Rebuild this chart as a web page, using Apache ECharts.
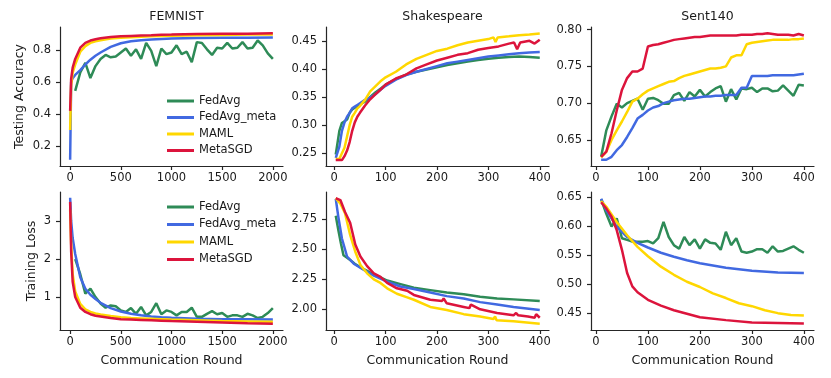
<!DOCTYPE html>
<html>
<head>
<meta charset="utf-8">
<script src="https://cdn.jsdelivr.net/npm/echarts@6/dist/echarts.min.js"></script>
<style>
html, body { margin: 0; padding: 0; background: #fff; }
#chart { width: 831px; height: 378px; }
</style>
</head>
<body>
<div id="chart"></div>
<script>
// ---- FEMNIST ----
const femSparseX = [50, 100, 150, 200, 250, 300, 350, 400, 450, 500, 550, 600, 650, 700, 750, 800, 850, 900, 950, 1000,
  1050, 1100, 1150, 1200, 1250, 1300, 1350, 1400, 1450, 1500, 1550, 1600, 1650, 1700, 1750, 1800, 1850, 1900, 1950, 2000];
const femDenseX = [0, 10, 25, 50, 100, 150, 200, 250, 300, 400, 500, 600, 700, 800, 900, 1000, 1250, 1500, 1750, 2000];

const femAccFedAvg = [0.545, 0.66, 0.72, 0.625, 0.70, 0.745, 0.77, 0.755, 0.76, 0.785, 0.81, 0.765, 0.805, 0.745, 0.845, 0.795, 0.70, 0.81, 0.775, 0.785,
  0.83, 0.775, 0.79, 0.725, 0.85, 0.845, 0.805, 0.77, 0.815, 0.81, 0.845, 0.81, 0.815, 0.85, 0.81, 0.815, 0.86, 0.83, 0.78, 0.745];
const femAccMeta = [0.115, 0.60, 0.625, 0.645, 0.675, 0.71, 0.74, 0.765, 0.785, 0.82, 0.843, 0.855, 0.862, 0.866, 0.869, 0.872, 0.875, 0.877, 0.878, 0.879];
const femAccMaml = [0.30, 0.58, 0.66, 0.71, 0.79, 0.825, 0.845, 0.855, 0.862, 0.872, 0.877, 0.88, 0.883, 0.886, 0.888, 0.89, 0.893, 0.895, 0.897, 0.898];
const femAccMetaSGD = [0.42, 0.62, 0.69, 0.745, 0.815, 0.845, 0.86, 0.868, 0.874, 0.882, 0.886, 0.889, 0.891, 0.893, 0.896, 0.897, 0.90, 0.902, 0.903, 0.905];

const femLossFedAvg = [2.0, 1.6, 1.09, 1.22, 1.0, 0.83, 0.72, 0.78, 0.76, 0.65, 0.61, 0.71, 0.56, 0.74, 0.52, 0.61, 0.84, 0.55, 0.65, 0.61,
  0.52, 0.61, 0.61, 0.72, 0.48, 0.48, 0.56, 0.63, 0.55, 0.58, 0.48, 0.52, 0.52, 0.48, 0.56, 0.52, 0.45, 0.48, 0.58, 0.71];
const femLossMeta = [3.61, 3.0, 2.55, 2.13, 1.52, 1.22, 1.06, 0.95, 0.85, 0.71, 0.62, 0.56, 0.52, 0.49, 0.47, 0.455, 0.43, 0.42, 0.415, 0.41];
const femLossMaml = [3.3, 2.4, 1.6, 1.15, 0.82, 0.68, 0.61, 0.57, 0.54, 0.50, 0.47, 0.45, 0.44, 0.43, 0.42, 0.41, 0.39, 0.37, 0.36, 0.35];
const femLossMetaSGD = [3.5, 2.2, 1.4, 1.0, 0.72, 0.61, 0.55, 0.51, 0.49, 0.45, 0.42, 0.41, 0.40, 0.39, 0.38, 0.37, 0.35, 0.33, 0.31, 0.30];

// ---- Shakespeare ----
const shkAccX = [3, 10, 15, 20, 25, 30, 35, 40, 45, 50, 60, 70, 80, 90, 100, 120, 140, 160, 180, 200, 220, 240, 260, 280, 300, 320, 340, 360, 380, 400];
const shkAccFedAvg = [0.248, 0.29, 0.304, 0.307, 0.31, 0.322, 0.328, 0.331, 0.334, 0.337, 0.342, 0.35, 0.358, 0.365, 0.372, 0.382, 0.39, 0.395, 0.399, 0.403,
  0.407, 0.41, 0.413, 0.416, 0.418, 0.42, 0.421, 0.422, 0.421, 0.42];
const shkAccMeta = [0.242, 0.262, 0.29, 0.305, 0.315, 0.322, 0.33, 0.333, 0.336, 0.339, 0.345, 0.349, 0.355, 0.363, 0.37, 0.381, 0.389, 0.395, 0.40, 0.405,
  0.41, 0.413, 0.416, 0.419, 0.422, 0.424, 0.426, 0.428, 0.429, 0.43];
const shkAccMamlX = [3, 10, 15, 20, 25, 30, 35, 40, 45, 50, 60, 70, 80, 90, 100, 120, 140, 160, 180, 200, 220, 240, 260, 280, 300, 310, 314, 318, 340, 360, 380, 400];
const shkAccMaml = [0.24, 0.24, 0.25, 0.26, 0.28, 0.30, 0.315, 0.322, 0.33, 0.334, 0.345, 0.36, 0.369, 0.378, 0.385, 0.395, 0.408, 0.418, 0.425, 0.432,
  0.436, 0.442, 0.447, 0.45, 0.453, 0.456, 0.448, 0.456, 0.458, 0.46, 0.461, 0.463];
const shkAccMetaSGDX = [3, 10, 15, 20, 25, 30, 35, 40, 45, 50, 60, 70, 80, 90, 100, 120, 140, 160, 180, 200, 220, 240, 260, 280, 300, 320, 340, 350, 356, 362, 380, 390, 400];
const shkAccMetaSGD = [0.238, 0.238, 0.238, 0.245, 0.255, 0.27, 0.29, 0.305, 0.315, 0.322, 0.335, 0.346, 0.355, 0.363, 0.372, 0.383, 0.39, 0.401, 0.408, 0.415,
  0.42, 0.425, 0.428, 0.434, 0.437, 0.44, 0.445, 0.447, 0.435, 0.447, 0.45, 0.445, 0.452];

const shkLossFedAvgX = [3, 8, 13, 18, 25, 31, 40, 51, 64, 77, 90, 103, 129, 155, 187, 219, 252, 284, 317, 349, 400];
const shkLossFedAvg = [2.78, 2.66, 2.55, 2.45, 2.43, 2.41, 2.38, 2.35, 2.32, 2.29, 2.265, 2.24, 2.21, 2.18, 2.16, 2.14, 2.125, 2.105, 2.09, 2.083, 2.07];
const shkLossMetaX = [3, 8, 15, 25, 38, 57, 77, 103, 129, 155, 187, 219, 252, 284, 317, 349, 400];
const shkLossMeta = [2.92, 2.77, 2.59, 2.44, 2.38, 2.33, 2.28, 2.23, 2.19, 2.17, 2.14, 2.11, 2.09, 2.06, 2.04, 2.02, 1.995];
const shkLossMamlX = [3, 12, 21, 31, 41, 51, 64, 77, 90, 103, 122, 142, 155, 187, 219, 252, 284, 310, 313, 316, 349, 400];
const shkLossMaml = [2.925, 2.88, 2.80, 2.62, 2.48, 2.37, 2.30, 2.25, 2.22, 2.175, 2.13, 2.10, 2.08, 2.02, 1.995, 1.96, 1.94, 1.92, 1.94, 1.91, 1.90, 1.88];
const shkLossMetaSGDX = [3, 12, 21, 31, 41, 51, 54, 64, 77, 90, 103, 122, 142, 155, 187, 210, 213, 219, 252, 263, 266, 284, 317, 349, 354, 358, 377, 390, 393, 400];
const shkLossMetaSGD = [2.925, 2.91, 2.81, 2.72, 2.54, 2.44, 2.44, 2.36, 2.30, 2.27, 2.22, 2.175, 2.155, 2.12, 2.08, 2.07, 2.09, 2.05, 2.02, 2.01,
  2.04, 2.00, 1.97, 1.95, 1.97, 1.95, 1.94, 1.93, 1.96, 1.93];

// ---- Sent140 ----
const sentX = [10, 20, 30, 40, 50, 60, 70, 80, 90, 100, 110, 120, 130, 140, 150, 160, 170, 180, 190, 200,
  210, 220, 230, 240, 250, 260, 270, 280, 290, 300, 310, 320, 330, 340, 350, 360, 370, 380, 390, 400];
const sentAccFedAvg = [0.627, 0.663, 0.682, 0.699, 0.694, 0.70, 0.703, 0.706, 0.691, 0.706, 0.707, 0.704, 0.699, 0.699, 0.711, 0.714, 0.703, 0.715, 0.709, 0.718,
  0.709, 0.715, 0.72, 0.723, 0.702, 0.719, 0.705, 0.72, 0.719, 0.721, 0.715, 0.72, 0.72, 0.716, 0.717, 0.724, 0.717, 0.71, 0.725, 0.724];
const sentAccMeta = [0.623, 0.623, 0.627, 0.636, 0.643, 0.654, 0.666, 0.679, 0.684, 0.69, 0.694, 0.696, 0.70, 0.702, 0.704, 0.705, 0.706, 0.706, 0.707, 0.708,
  0.709, 0.709, 0.71, 0.71, 0.711, 0.711, 0.711, 0.721, 0.721, 0.737, 0.737, 0.737, 0.737, 0.738, 0.738, 0.738, 0.738, 0.738, 0.739, 0.74];
const sentAccMaml = [0.626, 0.634, 0.65, 0.663, 0.675, 0.688, 0.702, 0.706, 0.712, 0.717, 0.72, 0.723, 0.726, 0.729, 0.73, 0.734, 0.737, 0.739, 0.741, 0.743,
  0.745, 0.747, 0.747, 0.748, 0.75, 0.762, 0.765, 0.765, 0.78, 0.782, 0.783, 0.784, 0.785, 0.786, 0.786, 0.786, 0.786, 0.787, 0.787, 0.788];
const sentAccMetaSGD = [0.627, 0.634, 0.659, 0.69, 0.718, 0.734, 0.743, 0.743, 0.747, 0.777, 0.779, 0.78, 0.782, 0.784, 0.786, 0.787, 0.788, 0.789, 0.79, 0.79,
  0.791, 0.792, 0.792, 0.792, 0.792, 0.792, 0.792, 0.793, 0.793, 0.793, 0.794, 0.794, 0.795, 0.794, 0.793, 0.793, 0.793, 0.792, 0.794, 0.792];

const sentLossFedAvg = [0.646, 0.621, 0.599, 0.613, 0.579, 0.576, 0.573, 0.573, 0.573, 0.574, 0.57, 0.579, 0.607, 0.581, 0.567, 0.561, 0.581, 0.567, 0.577, 0.561,
  0.577, 0.571, 0.57, 0.559, 0.59, 0.567, 0.579, 0.556, 0.554, 0.556, 0.56, 0.56, 0.554, 0.565, 0.556, 0.557, 0.561, 0.565, 0.559, 0.554];
const sentLossMetaX = [10, 20, 40, 60, 80, 100, 125, 150, 175, 200, 250, 300, 350, 400];
const sentLossMeta = [0.647, 0.627, 0.599, 0.581, 0.571, 0.563, 0.554, 0.547, 0.541, 0.536, 0.528, 0.523, 0.520, 0.519];
const sentLossMamlX = [10, 20, 40, 60, 80, 100, 125, 150, 175, 200, 225, 250, 275, 300, 325, 350, 375, 400];
const sentLossMaml = [0.643, 0.633, 0.607, 0.584, 0.564, 0.548, 0.53, 0.516, 0.504, 0.495, 0.484, 0.476, 0.467, 0.462, 0.455, 0.45, 0.447, 0.446];
const sentLossMetaSGDX = [10, 20, 30, 40, 50, 60, 70, 80, 100, 125, 150, 175, 200, 250, 300, 350, 400];
const sentLossMetaSGD = [0.641, 0.63, 0.616, 0.593, 0.559, 0.519, 0.496, 0.486, 0.473, 0.463, 0.455, 0.449, 0.443, 0.438, 0.434, 0.433, 0.432];

// ---- ticks ----
const femXTicks = [0, 500, 1000, 1500, 2000];
const roundXTicks = [0, 100, 200, 300, 400];
const femAccTicks = [0.2, 0.4, 0.6, 0.8];
const shkAccTicks = [0.25, 0.30, 0.35, 0.40, 0.45];
const sentAccTicks = [0.65, 0.70, 0.75, 0.80];
const femLossTicks = [1, 2, 3];
const shkLossTicks = [2.00, 2.25, 2.50, 2.75];
const sentLossTicks = [0.45, 0.50, 0.55, 0.60, 0.65];

const methods = ['FedAvg', 'FedAvg_meta', 'MAML', 'MetaSGD'];
const colors = ['#2e8b57', '#4169e1', '#ffd700', '#dc143c'];

const FONT = 'DejaVu Sans';
const INK = '#1a1a1a';

const zip = (xs, ys) => xs.map((x, i) => [x, ys[i]]);

// panel layout: 3 columns x 2 rows
const colLeft = [60, 326, 591];
const rowTop = [27, 192];
const panelW = 223;
const panelH = [139, 138];

const panels = [
  { row: 0, col: 0, xr: [-100, 2100], yr: [0.0755, 0.9445], xt: femXTicks, yt: femAccTicks, yd: 1,
    lines: [[femSparseX, femAccFedAvg], [femDenseX, femAccMeta], [femDenseX, femAccMaml], [femDenseX, femAccMetaSGD]] },
  { row: 0, col: 1, xr: [-16, 418], yr: [0.2275, 0.4745], xt: roundXTicks, yt: shkAccTicks, yd: 2,
    lines: [[shkAccX, shkAccFedAvg], [shkAccX, shkAccMeta], [shkAccMamlX, shkAccMaml], [shkAccMetaSGDX, shkAccMetaSGD]] },
  { row: 0, col: 2, xr: [-9.5, 419.5], yr: [0.6145, 0.8035], xt: roundXTicks, yt: sentAccTicks, yd: 2,
    lines: [[sentX, sentAccFedAvg], [sentX, sentAccMeta], [sentX, sentAccMaml], [sentX, sentAccMetaSGD]] },
  { row: 1, col: 0, xr: [-100, 2100], yr: [0.135, 3.76], xt: femXTicks, yt: femLossTicks, yd: 0,
    lines: [[femSparseX, femLossFedAvg], [femDenseX, femLossMeta], [femDenseX, femLossMaml], [femDenseX, femLossMetaSGD]] },
  { row: 1, col: 1, xr: [-16, 418], yr: [1.828, 2.977], xt: roundXTicks, yt: shkLossTicks, yd: 2,
    lines: [[shkLossFedAvgX, shkLossFedAvg], [shkLossMetaX, shkLossMeta], [shkLossMamlX, shkLossMaml], [shkLossMetaSGDX, shkLossMetaSGD]] },
  { row: 1, col: 2, xr: [-9.5, 419.5], yr: [0.421, 0.6585], xt: roundXTicks, yt: sentLossTicks, yd: 2,
    lines: [[sentX, sentLossFedAvg], [sentLossMetaX, sentLossMeta], [sentLossMamlX, sentLossMaml], [sentLossMetaSGDX, sentLossMetaSGD]] }
];

const spine = { show: true, onZero: false, lineStyle: { color: '#262626', width: 1.2 } };
const tick = (vals) => ({ show: true, length: 4, customValues: vals, lineStyle: { color: '#262626', width: 1.2 } });

const grids = [], xAxes = [], yAxes = [], series = [];
panels.forEach((p, i) => {
  grids.push({ left: colLeft[p.col], top: rowTop[p.row], width: panelW, height: panelH[p.row] });
  xAxes.push({
    type: 'value', gridIndex: i, min: p.xr[0], max: p.xr[1],
    axisLine: spine, axisTick: tick(p.xt), splitLine: { show: false },
    axisLabel: { customValues: p.xt, fontSize: 11.5, fontFamily: FONT, color: INK, margin: 6,
      formatter: (v) => String(Math.round(v)) },
    name: p.row === 1 ? 'Communication Round' : '',
    nameLocation: 'middle', nameGap: 24,
    nameTextStyle: { fontSize: 12.5, fontFamily: FONT, color: INK }
  });
  let yName = '';
  if (p.col === 0) yName = p.row === 0 ? 'Testing Accuracy' : 'Training Loss';
  yAxes.push({
    type: 'value', gridIndex: i, min: p.yr[0], max: p.yr[1],
    axisLine: spine, axisTick: tick(p.yt), splitLine: { show: false },
    axisLabel: { customValues: p.yt, fontSize: 11.5, fontFamily: FONT, color: INK, margin: 9,
      formatter: (v) => v.toFixed(p.yd) },
    name: yName, nameLocation: 'middle', nameGap: p.row === 0 ? 34 : 22,
    nameTextStyle: { fontSize: 12.5, fontFamily: FONT, color: INK }
  });
  p.lines.forEach((ln, k) => {
    series.push({
      type: 'line', name: methods[k], xAxisIndex: i, yAxisIndex: i,
      data: zip(ln[0], ln[1]), showSymbol: false, symbol: 'none',
      lineStyle: { width: 2.5, color: colors[k] }, itemStyle: { color: colors[k] }
    });
  });
});

const titleStyle = { fontSize: 12.5, fontWeight: 'normal', fontFamily: FONT, color: INK };
const legendBase = {
  orient: 'vertical', left: 162, icon: 'rect', itemWidth: 27, itemHeight: 3,
  data: methods, selectedMode: false,
  textStyle: { fontSize: 11.5, fontFamily: FONT, color: INK, lineHeight: 12 }
};

const chart = echarts.init(document.getElementById('chart'));
chart.setOption({
  animation: false,
  color: colors,
  title: [
    { text: 'FEMNIST', left: colLeft[0] + panelW / 2, top: 5, textAlign: 'center', textStyle: titleStyle },
    { text: 'Shakespeare', left: colLeft[1] + panelW / 2, top: 5, textAlign: 'center', textStyle: titleStyle },
    { text: 'Sent140', left: colLeft[2] + panelW / 2, top: 5, textAlign: 'center', textStyle: titleStyle }
  ],
  legend: [
    Object.assign({}, legendBase, { top: 90, itemGap: 4.5 }),
    Object.assign({}, legendBase, { top: 196, itemGap: 5.5 })
  ],
  grid: grids,
  xAxis: xAxes,
  yAxis: yAxes,
  series: series
});
</script>
</body>
</html>
